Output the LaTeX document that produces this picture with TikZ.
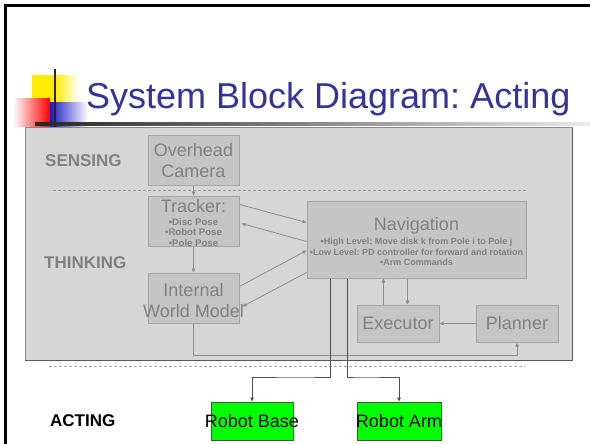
\documentclass[tikz,border=0pt]{standalone}
\usepackage{fontspec}
\setmainfont{Liberation Sans}
\usetikzlibrary{arrows.meta,calc}

\definecolor{titleblue}{HTML}{333399}
\definecolor{panelfill}{HTML}{D6D6D6}
\definecolor{panelline}{HTML}{8A8A8A}
\definecolor{boxfill}{HTML}{C5C5C5}
\definecolor{boxline}{HTML}{A3A3A3}
\definecolor{softtext}{HTML}{808080}
\definecolor{wire}{HTML}{8C8C8C}
\definecolor{darkwire}{HTML}{505050}
\definecolor{actgreen}{HTML}{00FF00}

% a centred line that may spill past its box
\newcommand{\spill}[1]{\makebox[0pt][c]{#1}}

\tikzset{
  unitbox/.style={draw=boxline, fill=boxfill, line width=1pt, inner sep=0pt,
    text=softtext, align=center, font=\fontsize{18}{21.5}\selectfont},
  greenbox/.style={draw=black!70, fill=actgreen, line width=0.8pt, inner sep=0pt,
    text=black, align=center, font=\fontsize{18}{20}\selectfont},
  phase/.style={font=\bfseries\fontsize{17}{19}\selectfont, text=softtext, inner sep=0pt},
  wirearrow/.style={draw=wire, line width=0.8pt,
    -{Triangle[length=4pt,width=3.5pt]}},
  outarrow/.style={draw=darkwire, line width=0.8pt,
    -{Triangle[length=4pt,width=3.5pt]}},
  bullets/.style={font=\bfseries\fontsize{9}{10.6}\selectfont, text=softtext,
    align=center, inner sep=0pt},
}

\begin{document}
\frenchspacing
\begin{tikzpicture}[x=1pt,y=-1pt]
\useasboundingbox (0,0) rectangle (590,444);
\fill[white] (0,0) rectangle (590,444);

% slide frame
\draw[black, line width=3pt] (5.5,444) -- (5.5,5.5) -- (590,5.5);

% title ornament
\shade[left color=yellow!85!orange, right color=white, middle color=yellow!85!orange]
  (32,76) rectangle (78,103);
\shade[left color=white, right color=red] (13,99) rectangle (50,127);
\shade[left color=blue!75!black!90, right color=white] (50,103) rectangle (88,127);
\shade[left color=black!85, right color=black!8] (35,122.5) rectangle (590,125.5);
\draw[black!85, line width=2.5pt] (55,69) -- (55,128);

% title
\node[anchor=base west, inner sep=0pt, text=titleblue,
  font=\fontsize{36}{40}\selectfont] (title) at (86,109) {System Block Diagram: Acting};

% grey panel for sensing and thinking
\draw[fill=panelfill, draw=panelline, line width=1pt] (25,128) rectangle (572,360);
\draw[draw=black!65, line width=1pt] (25,360) -- (572,360) -- (572,128);
\draw[draw=black!40, dash pattern=on 3pt off 2pt, line width=0.8pt] (53,190) -- (528,190);
\draw[draw=black!35, dash pattern=on 3pt off 2pt, line width=1pt] (49,366) -- (525,366);

% phase labels
\node[phase, anchor=west] (sense) at (45,161) {SENSING};
\node[phase, anchor=west] (think) at (44,263) {THINKING};
\node[phase, anchor=west, text=black] (act) at (50,421) {ACTING};

% blocks
\node[unitbox, minimum width=91, minimum height=49] (cam) at (193.5,160.5)
  {Overhead\\Camera};
\node[unitbox, minimum width=91, minimum height=50] (trk) at (193.5,221) {};
\node[anchor=north, inner sep=0pt, text=softtext, font=\fontsize{18}{20}\selectfont]
  (trkhead) at (193.5,199.5) {Tracker:};
\node[bullets, anchor=north, font=\bfseries\fontsize{9.6}{10.8}\selectfont]
  (trklist) at (193.5,218)
  {\spill{•Disc Pose}\\\spill{•Robot Pose}\\\spill{•Pole Pose}};
\node[unitbox, minimum width=91, minimum height=50] (iwm) at (193.5,298) {};
\node[unitbox, draw=none, fill=none, anchor=center] (iwmtext) at (193.5,300.5)
  {\spill{Internal}\\\spill{World Model}};
\node[unitbox, minimum width=219, minimum height=77] (nav) at (416.5,239.5) {};
\node[anchor=north, inner sep=0pt, text=softtext, font=\fontsize{18}{20}\selectfont]
  (navhead) at (416.5,217.5) {Navigation};
\node[bullets, anchor=north] (navlist) at (416.5,238)
  {\spill{•High Level: Move disk k from Pole i to Pole j}\\
   \spill{•Low Level: PD controller for forward and rotation}\\
   \spill{•Arm Commands}};
\node[unitbox, minimum width=82, minimum height=37] (exe) at (398,323.5) {Executor};
\node[unitbox, minimum width=82, minimum height=37] (pla) at (517,323.5) {Planner};

\node[greenbox, minimum width=82, minimum height=38] (base) at (252,421)
  {\spill{Robot Base}};
\node[greenbox, minimum width=84, minimum height=38] (arm) at (399,421)
  {\spill{Robot Arm}};

% rails used by the routed connectors
\coordinate (lowrail) at (0,355);
\coordinate (outrail) at (0,377);

% connectors
\draw[wirearrow] (cam.south) -- (trk.north);
\draw[wirearrow] (trk.south) -- (iwm.north);
\draw[wirearrow] ($(trk.north east)+(0,9)$) -- ($(nav.north west)+(0,22)$);
\draw[wirearrow] ($(nav.north west)+(0,41)$) -- ($(trk.north east)+(2,28)$);
\draw[wirearrow] ($(iwm.north east)+(0,14)$) -- ($(nav.north west)+(0,50)$);
\draw[wirearrow] ($(nav.north west)+(0,72)$) -- ($(iwm.north east)+(3,34)$);
\draw[wirearrow] ($(exe.north west)+(27,0)$) -- ($(nav.south west)+(77,0)$);
\draw[wirearrow] ($(nav.south west)+(101,0)$) -- ($(exe.north west)+(51,0)$);
\draw[wirearrow] (pla.west) -- (exe.east);
\draw[wirearrow] (iwm.south) -- (iwm.south |- lowrail) -| (pla.south);
\draw[outarrow] ($(nav.south west)+(24,0)$) |- ($(outrail)+(300,0)$) -| (base.north);
\draw[outarrow] ($(nav.south west)+(41,0)$) |- ($(outrail)+(360,0)$) -| (arm.north);
\end{tikzpicture}
\end{document}
